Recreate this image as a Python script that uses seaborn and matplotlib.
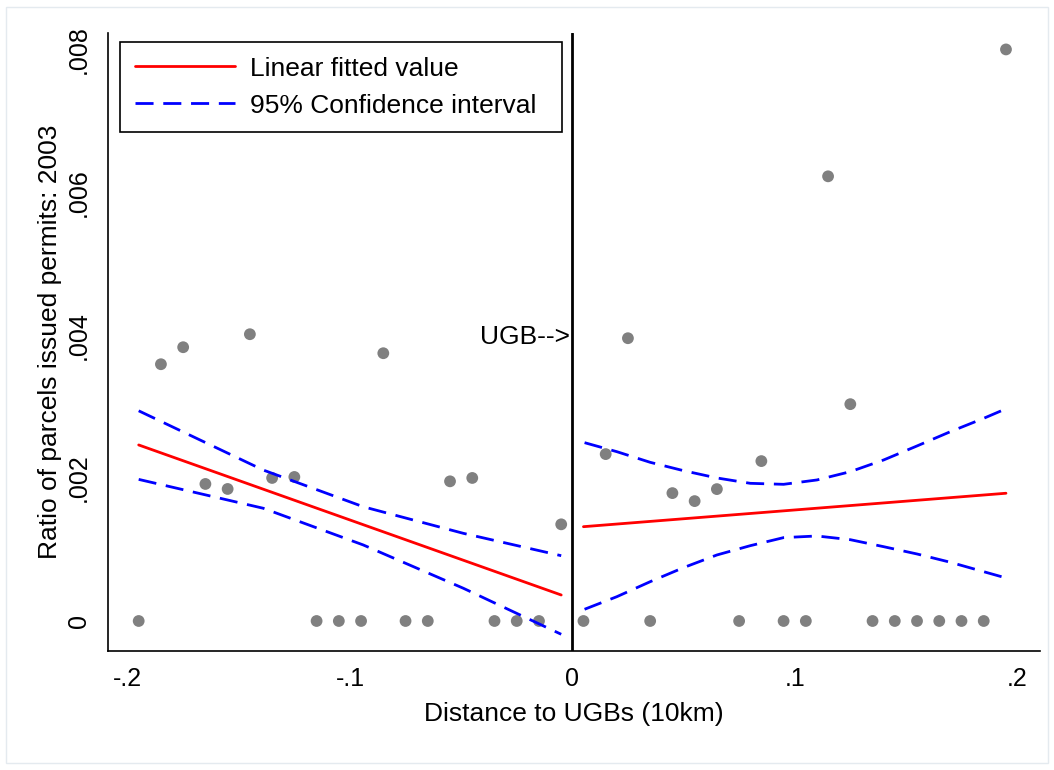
import numpy as np
import pandas as pd
import matplotlib
matplotlib.use("Agg")
import matplotlib.pyplot as plt
from matplotlib.lines import Line2D
from matplotlib.patches import Rectangle
import seaborn as sns

# ---------------- data ----------------
dist_left = [-0.195, -0.185, -0.175, -0.165, -0.155, -0.145, -0.135, -0.125, -0.115, -0.105,
             -0.095, -0.085, -0.075, -0.065, -0.055, -0.045, -0.035, -0.025, -0.015, -0.005]
ratio_left = [0.0, 0.003594, 0.003832, 0.001918, 0.001848, 0.004014, 0.002002, 0.002016, 0.0, 0.0,
              0.0, 0.003748, 0.0, 0.0, 0.001955, 0.002002, 0.0, 0.0, 0.0, 0.001353]

dist_right = [0.005, 0.015, 0.025, 0.035, 0.045, 0.055, 0.065, 0.075, 0.085, 0.095,
              0.105, 0.115, 0.125, 0.135, 0.145, 0.155, 0.165, 0.175, 0.185, 0.195]
ratio_right = [0.0, 0.002336, 0.003958, 0.0, 0.00179, 0.001678, 0.001846, 0.0, 0.002238, 0.0,
               0.0, 0.006224, 0.003035, 0.0, 0.0, 0.0, 0.0, 0.0, 0.0, 0.008]

fit_left_x = [-0.195, -0.005]
fit_left_y = [0.002464, 0.000364]
fit_right_x = [0.005, 0.195]
fit_right_y = [0.00132, 0.001788]

ci_left_x = [-0.195, -0.139, -0.094, -0.049, -0.005]
ci_left_hi = [0.002942, 0.002113, 0.001599, 0.001227, 0.000914]
ci_left_lo = [0.001982, 0.001578, 0.001064, 0.000458, -0.000186]

ci_right_x = [0.0055, 0.020, 0.035, 0.050, 0.065, 0.080, 0.095, 0.110, 0.125,
              0.140, 0.155, 0.170, 0.185, 0.1955]
ci_right_hi = [0.002496, 0.00237, 0.002221, 0.002104, 0.002002, 0.001927, 0.001913,
               0.001974, 0.00209, 0.002254, 0.00245, 0.00265, 0.002837, 0.002977]
ci_right_lo = [0.000164, 0.00034, 0.00055, 0.000747, 0.000924, 0.001054, 0.001167,
               0.00119, 0.001138, 0.00104, 0.000938, 0.000822, 0.00069, 0.000598]

x_ticks = [-0.2, -0.15, -0.1, -0.05, 0.0, 0.05, 0.1, 0.15, 0.2]
x_tick_labels = ["-.2", "", "-.1", "", "0", "", ".1", "", ".2"]
y_ticks = [0.0, 0.002, 0.004, 0.006, 0.008]
y_tick_labels = ["0", ".002", ".004", ".006", ".008"]

# ---------------- style ----------------
sns.set_style("white")
plt.rcParams["font.family"] = ["Liberation Sans", "DejaVu Sans"]
plt.rcParams.update({"text.color": "black", "axes.labelcolor": "black",
                     "xtick.color": "black", "ytick.color": "black"})

W, H = 1054, 770
fig = plt.figure(figsize=(W / 100, H / 100), dpi=100)
fig.patch.set_facecolor("white")
ax = fig.add_axes([108 / W, 1 - 651 / H, (1040 - 108) / W, (651 - 33) / H])
ax.set_facecolor("white")

# faint outer frame of graph region
fig.patches.append(Rectangle((6 / W, 7 / H), (1048 - 6) / W, (763 - 7) / H,
                             transform=fig.transFigure, fill=False,
                             edgecolor="#e4eaef", lw=1.0))

pts = pd.DataFrame({"x": dist_left + dist_right, "y": ratio_left + ratio_right})
sns.scatterplot(data=pts, x="x", y="y", ax=ax, color="#808080", s=72,
                edgecolor="none", linewidth=0, zorder=3)

dash = (0, (6.5, 3.5))
for xs, ys in [(fit_left_x, fit_left_y), (fit_right_x, fit_right_y)]:
    sns.lineplot(x=xs, y=ys, ax=ax, color="#ff0000", lw=2, sort=False,
                 estimator=None, zorder=4)
for xs, ys in [(ci_left_x, ci_left_hi), (ci_left_x, ci_left_lo),
               (ci_right_x, ci_right_hi), (ci_right_x, ci_right_lo)]:
    sns.lineplot(x=xs, y=ys, ax=ax, color="#0000ff", lw=2, sort=False,
                 estimator=None, linestyle=dash, zorder=4)

ax.axvline(0, color="black", lw=2, zorder=5)
ax.text(-0.001, 0.00397, "UGB-->", ha="right", va="center", fontsize=19, color="black")

ax.set_xlim(-0.2088, 0.2103)
ax.set_ylim(-0.00042, 0.00823)
ax.set_xticks(x_ticks)
ax.set_xticklabels(x_tick_labels, fontsize=18)
ax.set_yticks(y_ticks)
ax.set_yticklabels(y_tick_labels, fontsize=18, rotation=90, va="center")
ax.tick_params(axis="both", direction="out", length=7.5, width=1.2, color="black",
               labelcolor="black")
ax.tick_params(axis="x", pad=4)
ax.tick_params(axis="y", pad=5)

for s in ["top", "right"]:
    ax.spines[s].set_visible(False)
for s in ["left", "bottom"]:
    ax.spines[s].set_color("black")
    ax.spines[s].set_linewidth(1.2)

ax.set_xlabel("Distance to UGBs (10km)", fontsize=19, labelpad=8)
ax.set_ylabel("Ratio of parcels issued permits: 2003", fontsize=19, labelpad=3)

handles = [Line2D([], [], color="#ff0000", lw=2),
           Line2D([], [], color="#0000ff", lw=2, linestyle=dash)]
leg = ax.legend(handles, ["Linear fitted value", "95% Confidence interval"],
                loc="upper left", mode="expand",
                bbox_to_anchor=(120 / W, 1 - 129 / H, 442 / W, 87 / H),
                bbox_transform=fig.transFigure, borderaxespad=0,
                fontsize=19, frameon=True, fancybox=False, framealpha=1,
                edgecolor="black", handlelength=3.79, handletextpad=0.6,
                labelspacing=0.5, borderpad=0.55)
leg.get_frame().set_linewidth(1.2)

fig.savefig("out.png", dpi=100, facecolor="white")
